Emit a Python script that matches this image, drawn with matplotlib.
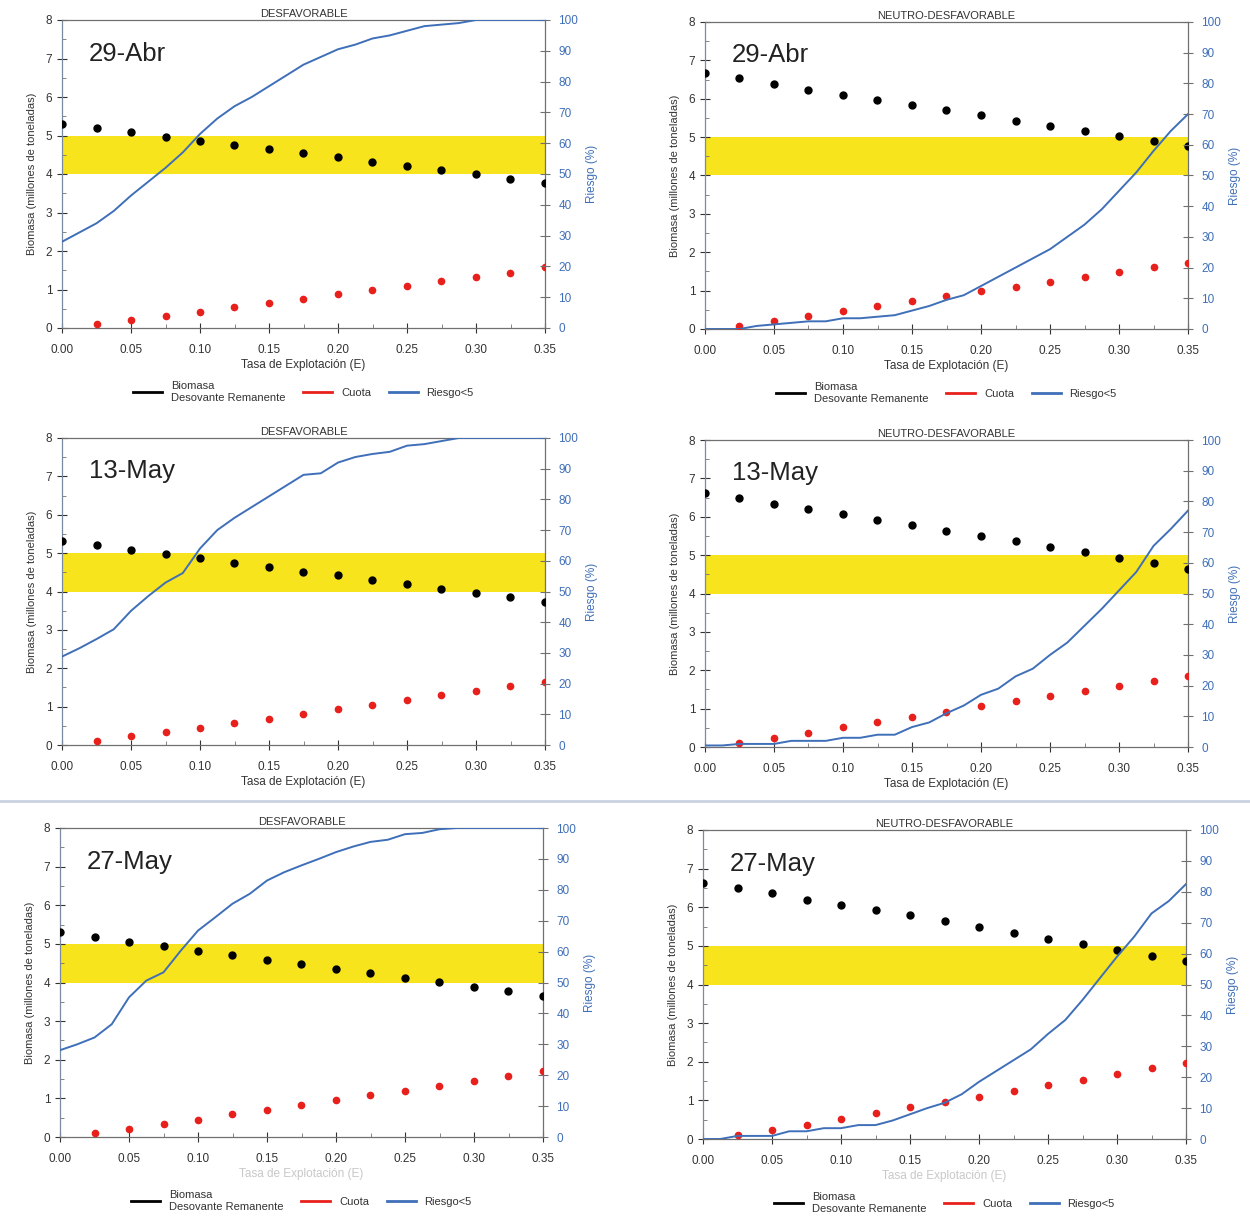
import numpy as np
import matplotlib
matplotlib.use("Agg")
import matplotlib.pyplot as plt
from matplotlib.lines import Line2D

plt.rcParams['font.family'] = ['Liberation Sans', 'DejaVu Sans']

# tasa de explotacion (puntos) y eje fino para el riesgo
tasa = [0.0, 0.025, 0.05, 0.075, 0.1, 0.125, 0.15, 0.175, 0.2, 0.225, 0.25, 0.275, 0.3, 0.325, 0.35]
tasa_cuota = tasa[1:]  # la cuota en E=0 es cero y no se ve
tasa_fina = [0.0, 0.0125, 0.025, 0.0375, 0.05, 0.0625, 0.075, 0.0875, 0.1, 0.1125, 0.125, 0.1375,
             0.15, 0.1625, 0.175, 0.1875, 0.2, 0.2125, 0.225, 0.2375, 0.25, 0.2625, 0.275, 0.2875,
             0.3, 0.3125, 0.325, 0.3375, 0.35]

# 29-Abr DESFAVORABLE
bio_abr_d = [5.31, 5.2, 5.09, 4.97, 4.85, 4.76, 4.64, 4.54, 4.44, 4.31, 4.21, 4.10, 3.99, 3.86, 3.76]
cuota_abr_d = [0.095, 0.2, 0.32, 0.42, 0.54, 0.65, 0.76, 0.875, 0.98, 1.09, 1.21, 1.33, 1.44, 1.59]
riesgo_abr_d = [28, 31, 34, 38, 43, 47.5, 52, 57, 63, 68, 72, 75, 78.5, 82, 85.5, 88, 90.5, 92, 94,
                95, 96.5, 98, 98.5, 99, 100, 100, 100, 100, 100]

# 29-Abr NEUTRO-DESFAVORABLE
bio_abr_n = [6.67, 6.53, 6.39, 6.24, 6.10, 5.98, 5.84, 5.71, 5.57, 5.42, 5.30, 5.15, 5.02, 4.89, 4.76]
cuota_abr_n = [0.09, 0.22, 0.34, 0.46, 0.59, 0.72, 0.86, 0.98, 1.09, 1.22, 1.35, 1.48, 1.61, 1.73]
riesgo_abr_n = [0, 0, 0, 1, 1.5, 2, 2.5, 2.5, 3.5, 3.5, 4, 4.5, 6, 7.5, 9.5, 11, 14, 17, 20, 23,
                26, 30, 34, 39, 45, 51, 58, 64.5, 70]

# 13-May DESFAVORABLE
bio_may13_d = [5.32, 5.21, 5.09, 4.97, 4.86, 4.74, 4.64, 4.52, 4.42, 4.30, 4.19, 4.07, 3.96, 3.85, 3.73]
cuota_may13_d = [0.1, 0.23, 0.33, 0.45, 0.57, 0.68, 0.81, 0.93, 1.05, 1.16, 1.29, 1.40, 1.53, 1.63]
riesgo_may13_d = [28.8, 31.5, 34.5, 37.7, 43.7, 48.5, 52.9, 56, 64, 70, 74, 77.5, 81, 84.5, 88,
                  88.5, 92, 93.8, 94.8, 95.5, 97.5, 98, 99, 100, 100, 100, 100, 100, 100]

# 13-May NEUTRO-DESFAVORABLE
bio_may13_n = [6.63, 6.49, 6.34, 6.2, 6.06, 5.92, 5.78, 5.64, 5.49, 5.36, 5.22, 5.07, 4.93, 4.80, 4.65]
cuota_may13_n = [0.1, 0.24, 0.37, 0.52, 0.64, 0.78, 0.91, 1.06, 1.19, 1.32, 1.46, 1.59, 1.73, 1.86]
riesgo_may13_n = [0.5, 0.5, 1, 1, 1, 2, 2, 2, 3, 3, 4, 4, 6.5, 8, 11, 13.5, 17, 19, 23, 25.5,
                  30, 34, 39.5, 45, 51, 57, 65.5, 71, 77]

# 27-May DESFAVORABLE
bio_may27_d = [5.30, 5.18, 5.06, 4.94, 4.82, 4.71, 4.58, 4.48, 4.36, 4.24, 4.12, 4.01, 3.89, 3.77, 3.65]
cuota_may27_d = [0.1, 0.22, 0.34, 0.45, 0.59, 0.71, 0.84, 0.95, 1.08, 1.19, 1.33, 1.45, 1.57, 1.70]
riesgo_may27_d = [28.1, 30, 32.2, 36.5, 45.2, 50.6, 53.3, 60.3, 66.8, 71.1, 75.5, 78.7, 83, 85.7,
                  87.9, 90, 92.2, 94, 95.5, 96.2, 98, 98.4, 99.6, 100, 100, 100, 100, 100, 100]

# 27-May NEUTRO-DESFAVORABLE
bio_may27_n = [6.62, 6.5, 6.36, 6.2, 6.07, 5.93, 5.79, 5.64, 5.48, 5.33, 5.18, 5.04, 4.9, 4.75, 4.6]
cuota_may27_n = [0.11, 0.24, 0.37, 0.53, 0.67, 0.82, 0.96, 1.1, 1.24, 1.39, 1.53, 1.67, 1.83, 1.96]
riesgo_may27_n = [0, 0, 1, 1, 1, 2.5, 2.5, 3.5, 3.5, 4.5, 4.5, 6, 8, 10, 11.7, 14.5, 18.5, 22, 25.5,
                  29, 34, 38.5, 45, 52, 59, 65.5, 73, 77, 82.5]

paneles = [
    # (izq px, arriba px, abajo px, titulo, fecha, biomasa, cuota, riesgo, leyenda, xlabel color)
    (62, 20, 328, 'DESFAVORABLE', '29-Abr', bio_abr_d, cuota_abr_d, riesgo_abr_d, True, '#333333'),
    (705, 22, 329, 'NEUTRO-DESFAVORABLE', '29-Abr', bio_abr_n, cuota_abr_n, riesgo_abr_n, True, '#333333'),
    (62, 438, 745, 'DESFAVORABLE', '13-May', bio_may13_d, cuota_may13_d, riesgo_may13_d, False, '#333333'),
    (705, 440, 747, 'NEUTRO-DESFAVORABLE', '13-May', bio_may13_n, cuota_may13_n, riesgo_may13_n, False, '#333333'),
    (60, 828, 1137, 'DESFAVORABLE', '27-May', bio_may27_d, cuota_may27_d, riesgo_may27_d, True, '#c8c8c8'),
    (703, 830, 1139, 'NEUTRO-DESFAVORABLE', '27-May', bio_may27_n, cuota_may27_n, riesgo_may27_n, True, '#c8c8c8'),
]

W, H = 1250, 1216
fig = plt.figure(figsize=(W / 100, H / 100), dpi=100)
fig.patch.set_facecolor('white')

azul = '#3f6fb8'
rojo = '#e8201c'
gris = '#707070'

for izq, arriba, abajo, titulo, fecha, bio, cuota, riesgo, con_leyenda, xcol in paneles:
    ax = fig.add_axes([izq / W, 1 - abajo / H, 483 / W, (abajo - arriba) / H])
    ax.axhspan(4, 5, color='#f7e41c', zorder=0, lw=0)
    ax.plot(tasa, bio, 'o', color='black', ms=5, zorder=3)
    ax.plot(tasa_cuota, cuota, 'o', color=rojo, ms=4.5, zorder=3)
    ax.set_xlim(0, 0.35)
    ax.set_ylim(0, 8)
    ax.set_xticks(np.arange(0, 0.351, 0.05))
    ax.set_xticklabels(['%.2f' % v for v in np.arange(0, 0.351, 0.05)])
    ax.set_xticks(np.arange(0.025, 0.35, 0.05), minor=True)
    ax.set_yticks(range(0, 9))
    ax.set_yticks(np.arange(0.5, 8, 1), minor=True)
    ax.tick_params(axis='both', which='major', direction='inout', length=7, width=0.8,
                   labelsize=8.5, colors='#333333')
    ax.tick_params(axis='both', which='minor', direction='in', length=3, width=0.6, color=gris)
    ax.tick_params(axis='x', pad=8)
    for s in ax.spines.values():
        s.set_color(gris)
        s.set_linewidth(0.9)
    ax.spines['left'].set_color('#7a8aa0')
    ax.set_ylabel('Biomasa (millones de toneladas)', fontsize=8, color='#333333', labelpad=6)
    ax.set_xlabel('Tasa de Explotación (E)', fontsize=8.5, color=xcol, labelpad=2)
    ax.set_title(titulo, fontsize=8, color='#333333', pad=2)
    ax.text(0.055, 0.93, fecha, transform=ax.transAxes, fontsize=18.5, va='top',
            family=['Liberation Sans Narrow', 'Liberation Sans', 'DejaVu Sans'], color='#222222')

    ax2 = ax.twinx()
    ax2.plot(tasa_fina, riesgo, color=azul, lw=1.4, zorder=2)
    ax2.set_ylim(0, 100)
    ax2.set_yticks(range(0, 101, 10))
    ax2.tick_params(axis='y', direction='inout', length=7, width=0.8, labelsize=8.5,
                    labelcolor=azul, color=gris, pad=6)
    for s in ax2.spines.values():
        s.set_visible(False)
    ax2.set_ylabel('Riesgo (%)', fontsize=8.5, color=azul, labelpad=6)

    if con_leyenda:
        handles = [Line2D([], [], color='black', lw=2),
                   Line2D([], [], color=rojo, lw=2),
                   Line2D([], [], color=azul, lw=2)]
        ax.legend(handles, ['Biomasa\nDesovante Remanente', 'Cuota', 'Riesgo<5'],
                  loc='upper center', bbox_to_anchor=(0.5, -0.14), ncol=3, frameon=False,
                  fontsize=8, handlelength=2.6, columnspacing=1.6, labelcolor='#333333')

# linea de separacion entre imagenes
fig.add_artist(Line2D([0, 1], [1 - 801 / H, 1 - 801 / H], color='#c9d3e0', lw=2))

fig.savefig('out.png', dpi=100, facecolor='white')
